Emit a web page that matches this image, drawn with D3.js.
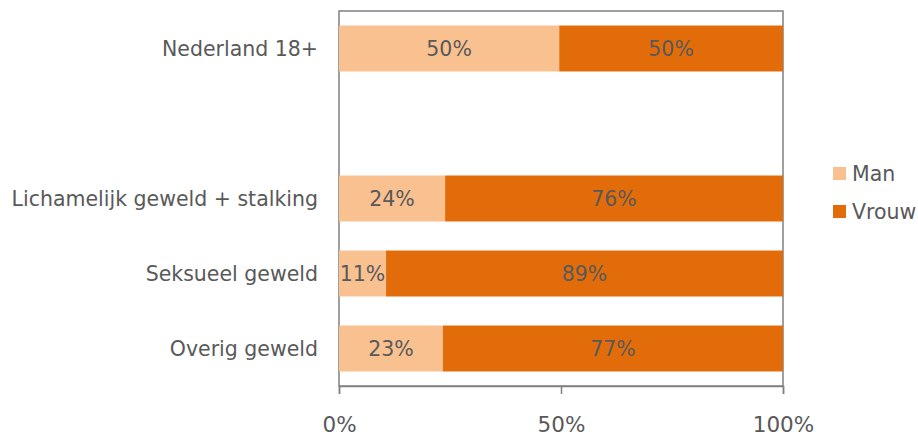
<!DOCTYPE html>
<html>
<head>
<meta charset="utf-8">
<script src="https://cdn.jsdelivr.net/npm/d3@7"></script>
<style>
  body { margin: 0; background: #fff; }
  text { font-family: "DejaVu Sans", Verdana, sans-serif; fill: #595959; }
</style>
</head>
<body>
<svg id="chart" width="918" height="436"></svg>
<script>
// categories (the empty one keeps the gap below Nederland 18+)
const categories = ['Nederland 18+', '', 'Lichamelijk geweld + stalking', 'Seksueel geweld', 'Overig geweld'];
const seriesNames = ['Man', 'Vrouw'];
const manValues = [49.6, null, 23.9, 10.6, 23.4];
const vrouwValues = [50.4, null, 76.1, 89.4, 76.6];
const xTicks = [0, 50, 100];

const colors = { Man: '#F9C190', Vrouw: '#E36C0A' };
const fontSize = 20.5;

const svg = d3.select('#chart');

const x = d3.scaleLinear().domain([0, 100]).range([339, 783]);
const y = d3.scaleBand().domain(categories).range([11, 386])
    .paddingInner(0.387).paddingOuter(0.387 / 2);

// plot frame
svg.append('rect')
    .attr('x', x(0)).attr('y', 11)
    .attr('width', x(100) - x(0)).attr('height', 386 - 11)
    .attr('fill', 'none').attr('stroke', '#808080').attr('stroke-width', 1.5);

// stacked rows built from the series arrays
const rows = categories.map((c, i) => ({ cat: c, Man: manValues[i], Vrouw: vrouwValues[i] }))
    .filter(d => d.Man !== null);
const stacked = d3.stack().keys(seriesNames)(rows);

const layer = svg.selectAll('g.layer')
    .data(stacked)
    .join('g')
    .attr('class', 'layer')
    .attr('fill', d => colors[d.key]);

layer.selectAll('rect')
    .data(d => d)
    .join('rect')
    .attr('x', d => x(d[0]))
    .attr('y', d => y(d.data.cat))
    .attr('width', d => x(d[1]) - x(d[0]))
    .attr('height', y.bandwidth());

layer.selectAll('text')
    .data(d => d)
    .join('text')
    .attr('x', d => (x(d[0]) + x(d[1])) / 2)
    .attr('y', d => y(d.data.cat) + y.bandwidth() / 2)
    .attr('dy', '0.36em')
    .attr('text-anchor', 'middle')
    .attr('font-size', fontSize)
    .text(d => Math.round(d[1] - d[0]) + '%');

// category labels
svg.append('g').selectAll('text')
    .data(categories.filter(c => c !== ''))
    .join('text')
    .attr('x', 318)
    .attr('y', d => y(d) + y.bandwidth() / 2)
    .attr('dy', '0.36em')
    .attr('text-anchor', 'end')
    .attr('font-size', fontSize)
    .text(d => d);

// x axis
const xAxis = svg.append('g')
    .attr('transform', 'translate(0,386)')
    .call(d3.axisBottom(x).tickValues(xTicks).tickSize(8).tickPadding(23)
        .tickFormat(d => d + '%'));
xAxis.select('.domain').attr('stroke', '#808080').attr('stroke-width', 1.5);
xAxis.selectAll('.tick line').attr('stroke', '#808080').attr('stroke-width', 1.5);
xAxis.selectAll('.tick text').attr('font-size', 21.5).attr('font-family', null)
    .attr('fill', '#595959');

// legend
const legend = svg.append('g').selectAll('g')
    .data(seriesNames)
    .join('g')
    .attr('transform', (d, i) => `translate(833,${167 + i * 38})`);
legend.append('rect')
    .attr('width', 13).attr('height', 13)
    .attr('fill', d => colors[d]);
legend.append('text')
    .attr('x', 19).attr('y', 7)
    .attr('dy', '0.36em')
    .attr('font-size', fontSize)
    .text(d => d);
</script>
</body>
</html>
